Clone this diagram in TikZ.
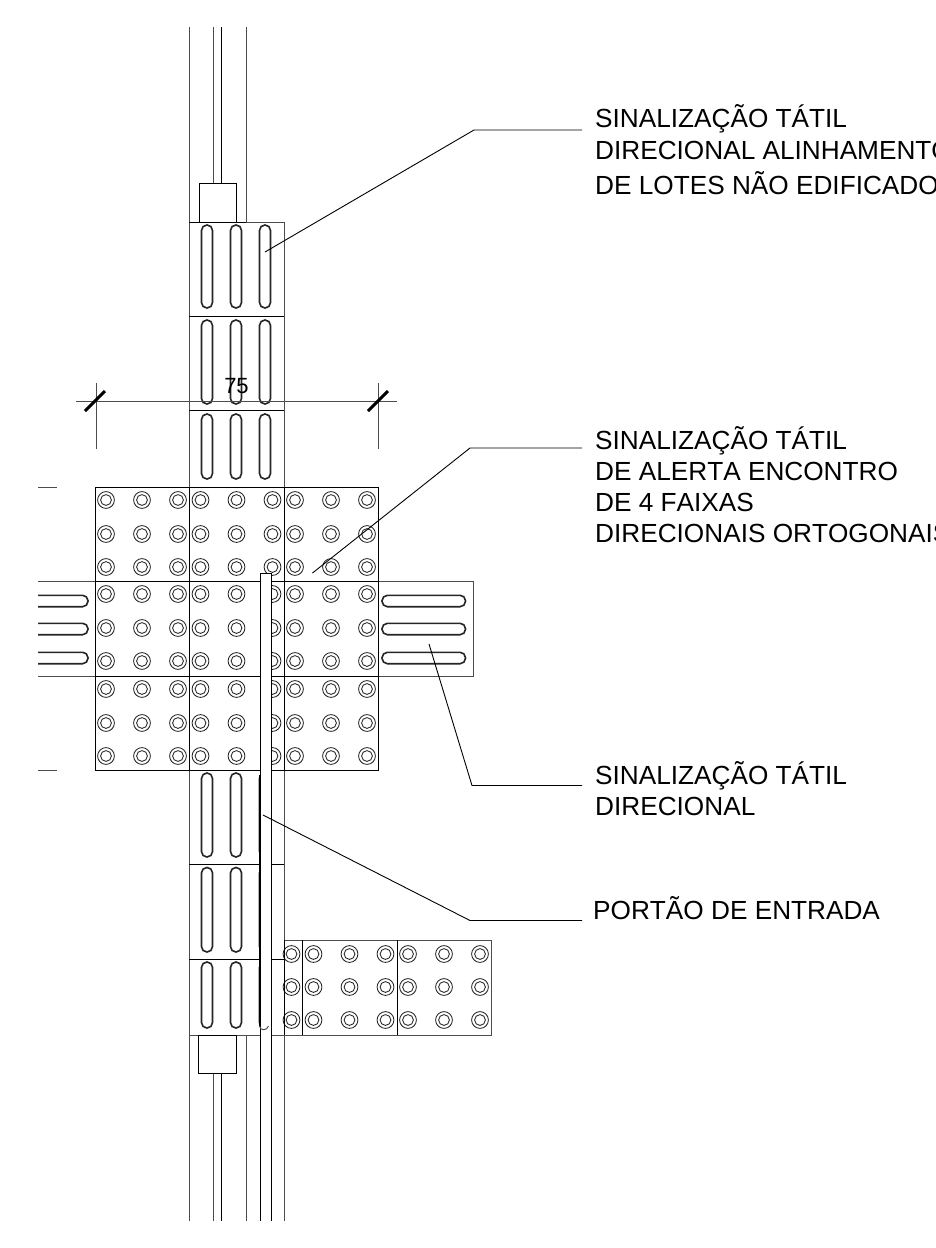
\documentclass[tikz,border=0pt]{standalone}
\usepackage{fontspec}
\setmainfont[Kerning=Off]{Liberation Sans}
\tikzset{
  thin line/.style={draw=black!70,line width=0.95pt},
  dark line/.style={draw=black,line width=1pt},
  groove/.style={draw=black!85,line width=1.6pt,fill=white,rounded corners=5.4pt},
  leader/.style={draw=black,line width=0.9pt},
  tick/.style={draw=black,line width=3pt},
  label/.style={anchor=base west,inner sep=0pt,font=\fontsize{26.2}{26.2}\selectfont},
  outer dot/.style={draw=black!85,line width=0.85pt,fill=white},
  inner dot/.style={draw=black!85,line width=0.85pt},
}
\newcommand{\studs}[2]{%
  \foreach \dx in {11,47,83}{\foreach \dy in {13,47,80}{
    \draw[outer dot] (#1+\dx,#2+\dy) circle (8.4pt);
    \draw[inner dot] (#1+\dx,#2+\dy) circle (5.4pt);}}}
\begin{document}
\begin{tikzpicture}[x=1pt,y=-1pt]
\useasboundingbox (0,0) rectangle (936,1248);
\fill[white] (0,0) rectangle (936,1248);
\clip (0,0) rectangle (936,1248);
% long verticals
\draw[thin line] (189,27) -- (189,487) (189,770) -- (189,1221);
\draw[thin line] (246,27) -- (246,222) (246,1035) -- (246,1221);
\draw[thin line] (213.5,27) -- (213.5,183) (213.5,1073) -- (213.5,1221);
\draw[dark line] (221,27) -- (221,183) (221,1073) -- (221,1221);
\draw[thin line] (284,222) -- (284,487) (284,770) -- (284,1221);
% upper and lower tile courses
\draw[dark line] (189,222) -- (246,222);
\draw[thin line] (246,222) -- (284,222);
\draw[dark line] (189,316) -- (284,316) (189,410.5) -- (284,410.5);
\draw[dark line] (189,864) -- (284,864) (189,959) -- (284,959);
\draw[thin line] (189,1035) -- (284,1035);
% end blocks
\draw[dark line] (199,222) rectangle (236.5,183);
\draw[dark line] (198.5,1035) rectangle (236.5,1073);
% directional grooves
\foreach \cx in {207,236,265}{
  \draw[groove] (\cx-5.5,225) rectangle (\cx+5.5,308);
  \draw[groove] (\cx-5.5,320) rectangle (\cx+5.5,404);
  \draw[groove] (\cx-5.5,414) rectangle (\cx+5.5,479);
  \draw[groove] (\cx-5.5,773) rectangle (\cx+5.5,857);
  \draw[groove] (\cx-5.5,867.5) rectangle (\cx+5.5,952);
  \draw[groove] (\cx-5.5,962) rectangle (\cx+5.5,1028);
}
% side stubs
\draw[thin line] (38,581) -- (95,581) (38,676) -- (95,676);
\draw[thin line] (378.5,581) -- (473,581) -- (473,676) -- (378.5,676);
\draw[thin line] (38,487) -- (57,487) (38,770) -- (57,770);
\begin{scope}
\clip (38,570) rectangle (95,690);
\foreach \cy in {601,629,658}{\draw[groove] (20,\cy-5.7) rectangle (88,\cy+5.7);}
\end{scope}
\foreach \cy in {601,629,658}{\draw[groove] (382,\cy-5.7) rectangle (465.5,\cy+5.7);}
% alert field
\foreach \x in {95,189.5,284}{\foreach \y in {487,581,676}{
  \studs{\x}{\y}
}}
\foreach \x in {95,189.5,284,378.5}{\draw[dark line] (\x,487) -- (\x,770);}
\foreach \y in {487,581,676,770}{\draw[dark line] (95,\y) -- (378.5,\y);}
% side alert tiles
\draw[thin line] (284,940) -- (491.5,940) -- (491.5,1035) -- (284,1035);
\draw[dark line] (302.5,940) -- (302.5,1035) (397,940) -- (397,1035);
\foreach \y in {954,987,1020}{
  \foreach \cx in {291.5,313.5,349.5,385.5,408,444,480}{
    \draw[outer dot] (\cx,\y) circle (8.4pt);
    \draw[inner dot] (\cx,\y) circle (5.4pt);}
}
\draw[dark line] (284,940) -- (284,1035);
% gate
\draw[dark line,fill=white] (271,1221) -- (271,573) -- (260,573) -- (260,1221);
\draw[dark line] (259,775) -- (259,1026);
\draw[thin line] (259.5,1026) .. controls (260,1031) and (267,1031) .. (268.5,1026);
% dimension
\draw[thin line] (76,401) -- (397,401);
\draw[thin line] (96,383) -- (96,449) (378,383) -- (378,449);
\draw[tick] (85,411) -- (105,391);
\draw[tick] (368,411) -- (388,391);
\node[font=\fontsize{22}{22}\selectfont,inner sep=0pt,anchor=base] (dim) at (236.5,393.5) {75};
% labels
\node[label] (l1) at (595,127) {SINALIZAÇÃO TÁTIL};
\node[label] (l1b) at (595,159) {DIRECIONAL ALINHAMENTO};
\node[label] (l1c) at (595,194) {DE LOTES NÃO EDIFICADOS};
\node[label] (l2) at (595,449.5) {SINALIZAÇÃO TÁTIL};
\node[label] (l2b) at (595,480) {DE ALERTA ENCONTRO};
\node[label] (l2c) at (595,511.5) {DE 4 FAIXAS};
\node[label] (l2d) at (595,542) {DIRECIONAIS ORTOGONAIS};
\node[label] (l3) at (595,784.5) {SINALIZAÇÃO TÁTIL};
\node[label] (l3b) at (595,815.5) {DIRECIONAL};
\node[label] (l4) at (593,919.5) {PORTÃO DE ENTRADA};
% leaders
\coordinate (a1) at (265,252); \coordinate (k1) at (474,130); \coordinate (e1) at (582,130);
\coordinate (a2) at (312.5,573); \coordinate (k2) at (470,448); \coordinate (e2) at (582,448);
\coordinate (a3) at (429,644); \coordinate (k3) at (472,785.5); \coordinate (e3) at (582,785.5);
\coordinate (a4) at (263,815); \coordinate (k4) at (470,920.5); \coordinate (e4) at (582,920.5);
\draw[leader] (a1) -- (k1) -- (e1);
\draw[leader] (a2) -- (k2) -- (e2);
\draw[leader] (a3) -- (k3) -- (e3);
\draw[leader] (a4) -- (k4) -- (e4);
\end{tikzpicture}
\end{document}
